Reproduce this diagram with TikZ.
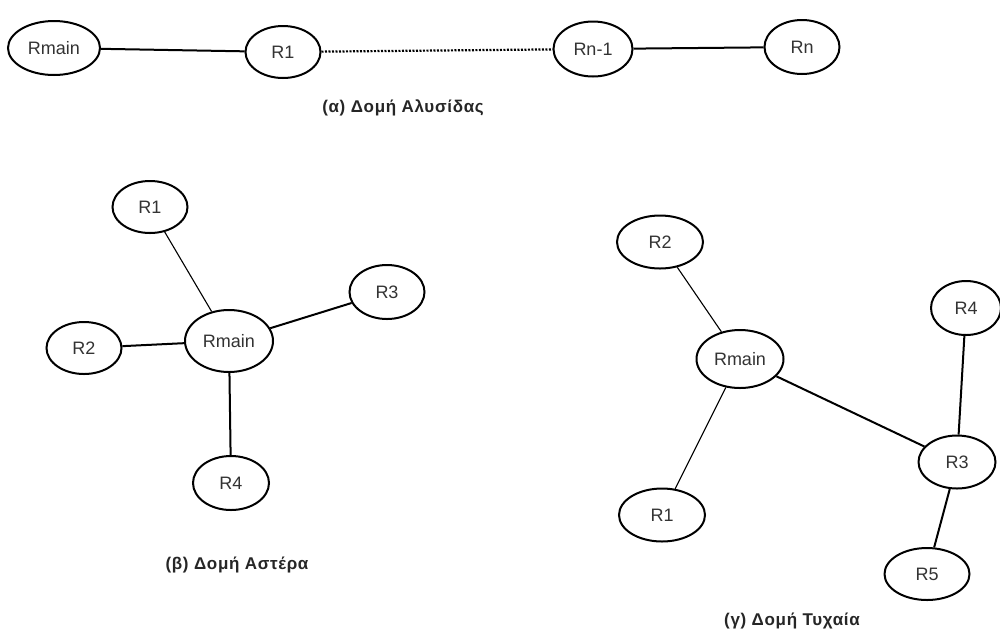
\documentclass[tikz,border=0pt]{standalone}
\usepackage{fontspec}
\setmainfont{Liberation Sans}
\newfontfamily\capfont[LetterSpace=4]{Liberation Sans}
\usetikzlibrary{shapes.geometric}
\tikzset{
  router/.style n args={2}{ellipse, draw, line width=2pt, inner sep=0pt,
    minimum width=#1pt, minimum height=#2pt, text=black!80,
    font=\fontsize{18}{21}\selectfont},
  link/.style={line width=2pt},
  thinlink/.style={line width=1.1pt},
  farlink/.style={line width=2.2pt, dash pattern=on 2pt off 1.5pt},
  caption/.style={font=\capfont\bfseries\fontsize{17}{20}\selectfont, text=black!85}
}
\begin{document}
\begin{tikzpicture}[x=1pt, y=-1pt]
\useasboundingbox (0,0) rectangle (1000,633);
\fill[white] (0,0) rectangle (1000,633);

% chain structure
\node[router={92}{54}] (cm) at (54,48) {Rmain};
\node[router={75}{52}] (c1) at (283,52) {R1};
\node[router={79}{55}] (cn1) at (593,49) {Rn-1};
\node[router={75}{54}] (cn) at (802,47) {Rn};
\draw[link] (cm) -- (c1);
\draw[farlink] (c1) -- (cn1);
\draw[link] (cn1) -- (cn);
\node[caption] (capa) at (403,108) {(α) Δομή Αλυσίδας};

% star structure
\node[router={88}{62}] (sm) at (229,341) {Rmain};
\node[router={75}{52}] (s1) at (150,207) {R1};
\node[router={75}{52}] (s2) at (84,348) {R2};
\node[router={75}{54}] (s3) at (387,292) {R3};
\node[router={76}{54}] (s4) at (231,483) {R4};
\draw[thinlink] (s1) -- (sm);
\draw[link] (s2) -- (sm);
\draw[link] (s3) -- (sm);
\draw[link] (s4) -- (sm);
\node[caption] (capb) at (237,565) {(β) Δομή Αστέρα};

% random structure
\node[router={87}{58}] (rm) at (740,359) {Rmain};
\node[router={86}{53}] (r1) at (662,515) {R1};
\node[router={86}{53}] (r2) at (660,242) {R2};
\node[router={77}{53}] (r3) at (957,462) {R3};
\node[router={70}{54}] (r4) at (966,308) {R4};
\node[router={85}{52}] (r5) at (927,574) {R5};
\draw[thinlink] (r2) -- (rm);
\draw[thinlink] (rm) -- (r1);
\draw[link] (rm) -- (r3);
\draw[link] (r4) -- (r3);
\draw[link] (r3) -- (r5);
\node[caption] (capc) at (792,621) {(γ) Δομή Τυχαία};
\end{tikzpicture}
\end{document}
